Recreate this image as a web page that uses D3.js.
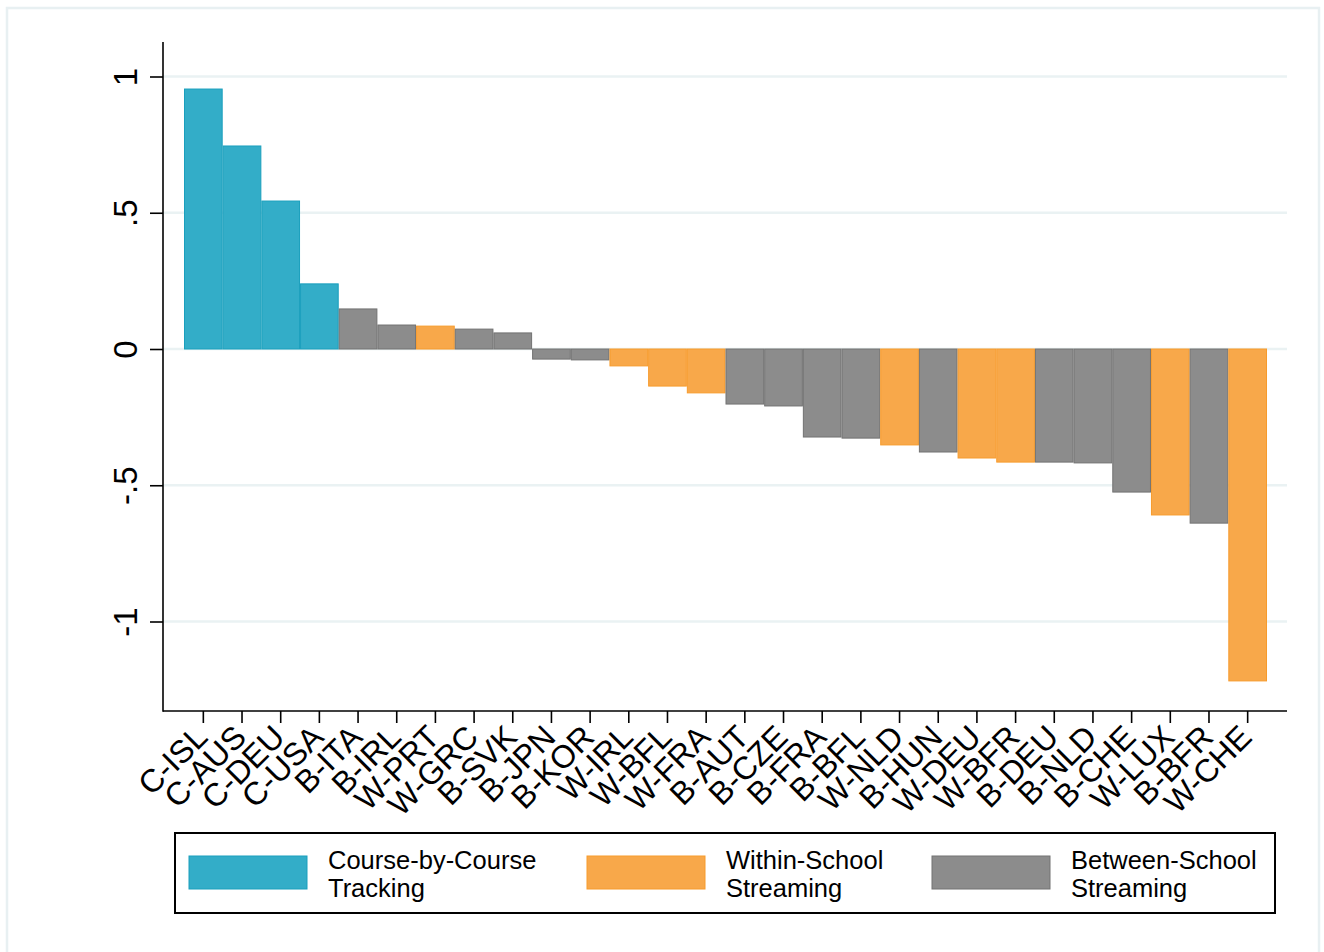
<!DOCTYPE html>
<html>
<head>
<meta charset="utf-8">
<script src="https://cdn.jsdelivr.net/npm/d3@7"></script>
<style>
  body { margin: 0; background: #fff; }
  text { font-family: "Liberation Sans", Arial, sans-serif; }
</style>
</head>
<body>
<div id="chart"></div>
<script>
// data
const categories = ["C-ISL","C-AUS","C-DEU","C-USA","B-ITA","B-IRL","W-PRT","W-GRC","B-SVK","B-JPN",
  "B-KOR","W-IRL","W-BFL","W-FRA","B-AUT","B-CZE","B-FRA","B-BFL","W-NLD","B-HUN",
  "W-DEU","W-BFR","B-DEU","B-NLD","B-CHE","W-LUX","B-BFR","W-CHE"];
const values = [0.954, 0.745, 0.543, 0.239, 0.147, 0.088, 0.084, 0.073, 0.059, -0.037,
  -0.040, -0.062, -0.136, -0.161, -0.202, -0.209, -0.323, -0.327, -0.352, -0.378,
  -0.400, -0.415, -0.415, -0.418, -0.525, -0.609, -0.639, -1.218];
// colour group of each bar (as drawn in the figure)
const barGroup = ["C","C","C","C","B","B","W","B","B","B",
  "B","W","W","W","B","B","B","B","W","B",
  "W","W","B","B","B","W","B","W"];
const yTicks = [1, 0.5, 0, -0.5, -1];
const yTickLabels = ["1", ".5", "0", "-.5", "-1"];
const groups = ["Course-by-Course|Tracking", "Within-School|Streaming", "Between-School|Streaming"];
const groupKeys = ["C", "W", "B"];
const groupFill = {C: "#33adc8", W: "#f8a84a", B: "#8c8c8c"};
const groupStroke = {C: "#1a9fbd", W: "#f79b2c", B: "#727272"};

const W = 1324, H = 952;
const svg = d3.select("#chart").append("svg")
    .attr("width", W).attr("height", H);

// outer graph region outline
svg.append("rect").attr("x", 7).attr("y", 8).attr("width", 1312).attr("height", 950)
    .attr("fill", "none").attr("stroke", "#e8f0f2").attr("stroke-width", 2.5);

const pLeft = 163, pRight = 1287, pTop = 42, pBottom = 711;

const x = d3.scaleBand().domain(categories).range([184, 1267]).padding(0);
const y = d3.scaleLinear().domain([0, 1]).range([349, 76.5]);

// grid lines
svg.append("g").selectAll("line").data(yTicks).join("line")
    .attr("x1", pLeft).attr("x2", pRight)
    .attr("y1", d => y(d)).attr("y2", d => y(d))
    .attr("stroke", "#eaf2f3").attr("stroke-width", 2.5);

// bars
svg.append("g").selectAll("rect").data(values).join("rect")
    .attr("x", (d, i) => x(categories[i]) + 0.5)
    .attr("width", x.bandwidth() - 1)
    .attr("y", d => Math.min(y(d), y(0)))
    .attr("height", d => Math.abs(y(d) - y(0)))
    .attr("fill", (d, i) => groupFill[barGroup[i]])
    .attr("stroke", (d, i) => groupStroke[barGroup[i]])
    .attr("stroke-width", 1);

// y axis
const yAxis = d3.axisLeft(y).tickValues(yTicks).tickSize(13)
    .tickFormat((d, i) => yTickLabels[i]);
const gy = svg.append("g").attr("transform", `translate(${pLeft},0)`).call(yAxis);
gy.select(".domain").remove();
gy.selectAll(".tick line").attr("stroke", "#000").attr("stroke-width", 1.6);
gy.selectAll(".tick text")
    .attr("x", 0).attr("dy", 0)
    .attr("transform", "translate(-26,0) rotate(-90)")
    .attr("text-anchor", "middle")
    .attr("font-size", 33).attr("fill", "#000");
svg.append("line").attr("x1", pLeft).attr("x2", pLeft).attr("y1", pTop).attr("y2", pBottom + 0.8)
    .attr("stroke", "#000").attr("stroke-width", 1.6);

// x axis
const xAxis = d3.axisBottom(x).tickSize(12).tickSizeOuter(0);
const gx = svg.append("g").attr("transform", `translate(0,${pBottom})`).call(xAxis);
gx.select(".domain").remove();
gx.selectAll(".tick line").attr("stroke", "#000").attr("stroke-width", 1.6);
gx.selectAll(".tick text")
    .attr("y", 0).attr("dy", 0)
    .attr("transform", "translate(6,28) rotate(-45)")
    .attr("text-anchor", "end")
    .attr("font-size", 32).attr("fill", "#000");
svg.append("line").attr("x1", pLeft).attr("x2", pRight).attr("y1", pBottom).attr("y2", pBottom)
    .attr("stroke", "#000").attr("stroke-width", 1.6);

// legend
svg.append("rect").attr("x", 175).attr("y", 833).attr("width", 1100).attr("height", 80)
    .attr("fill", "#fff").attr("stroke", "#000").attr("stroke-width", 2);
const keyX = [189, 587, 932];
groupKeys.forEach((k, i) => {
  svg.append("rect").attr("x", keyX[i]).attr("y", 856).attr("width", 118).attr("height", 33)
      .attr("fill", groupFill[k]).attr("stroke", groupStroke[k]).attr("stroke-width", 1);
  const lines = groups[i].split("|");
  lines.forEach((t, j) => {
    svg.append("text").attr("x", keyX[i] + 139).attr("y", 869 + j * 28)
        .attr("font-size", 25.5).attr("fill", "#000").text(t);
  });
});
</script>
</body>
</html>
